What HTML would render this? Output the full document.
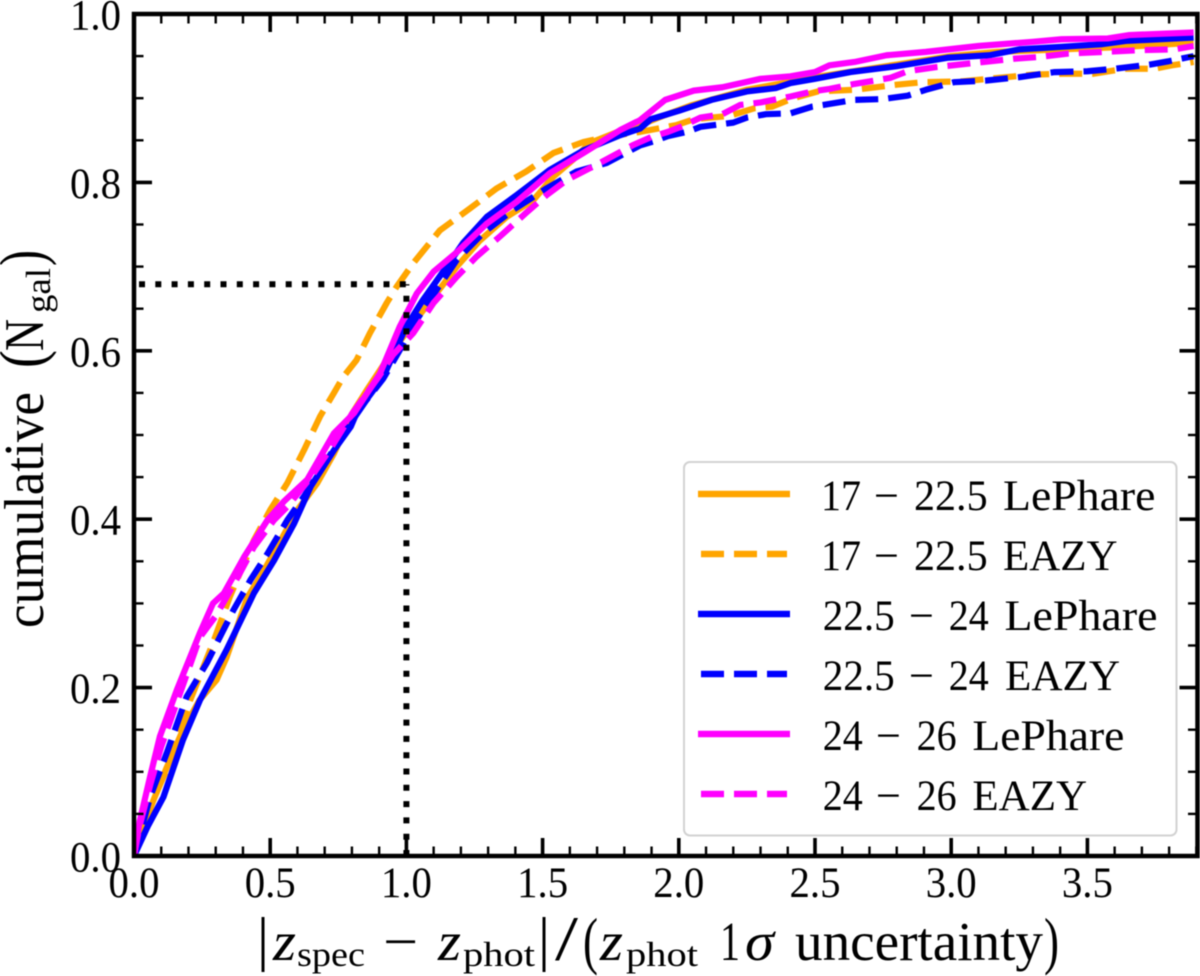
<!DOCTYPE html>
<html lang="en">
<head>
<meta charset="utf-8">
<title>Cumulative photometric redshift uncertainty</title>
<style>
html,body{margin:0;padding:0;background:#fff;}
#chart{display:block;width:1200px;height:976px;filter:blur(0.45px);}
text{font-family:"Liberation Serif",serif;fill:#000;}
</style>
</head>
<body>
<svg id="chart" xmlns="http://www.w3.org/2000/svg" width="1200" height="976" viewBox="0 0 1200 976">
  <defs>
    <clipPath id="plot-clip"><rect x="134" y="14" width="1063.5" height="842"/></clipPath>
  </defs>
  <rect x="0" y="0" width="1200" height="976" fill="#fff"/>
  <g id="series-layer" clip-path="url(#plot-clip)"></g>
  <g id="reference-layer"></g>
  <g id="tick-layer"></g>
  <rect x="134" y="14" width="1063.5" height="842" fill="none" stroke="#000" stroke-width="4.5"/>
  <g id="label-layer"></g>

  <g font-size="55" font-weight="400">
    <text x="257" y="959" font-size="60">|</text>
    <text x="273" y="960" font-style="italic" textLength="23" lengthAdjust="spacingAndGlyphs">z</text>
    <text x="297" y="966" font-size="35" textLength="68" lengthAdjust="spacingAndGlyphs">spec</text>
    <text x="383" y="960" textLength="35" lengthAdjust="spacingAndGlyphs">−</text>
    <text x="438" y="960" font-style="italic" textLength="23" lengthAdjust="spacingAndGlyphs">z</text>
    <text x="463" y="966" font-size="35" textLength="72" lengthAdjust="spacingAndGlyphs">phot</text>
    <text x="538" y="959" font-size="60">|</text>
    <text x="555" y="960" font-size="64" textLength="23" lengthAdjust="spacingAndGlyphs">/</text>
    <text x="583" y="962" font-size="64" textLength="15" lengthAdjust="spacingAndGlyphs">(</text>
    <text x="600" y="960" font-style="italic" textLength="23" lengthAdjust="spacingAndGlyphs">z</text>
    <text x="626" y="966" font-size="35" textLength="72" lengthAdjust="spacingAndGlyphs">phot</text>
    <text x="720" y="960" textLength="20" lengthAdjust="spacingAndGlyphs">1</text>
    <text x="745" y="960" font-style="italic" textLength="29" lengthAdjust="spacingAndGlyphs">σ</text>
    <text x="795" y="960" textLength="248" lengthAdjust="spacingAndGlyphs">uncertainty</text>
    <text x="1044" y="962" font-size="64" textLength="15" lengthAdjust="spacingAndGlyphs">)</text>
  </g>

  <g font-size="56">
    <text transform="translate(43,628) rotate(-90)" textLength="236" lengthAdjust="spacingAndGlyphs">cumulative</text>
    <text transform="translate(43,368) rotate(-90)" font-size="64" textLength="18" lengthAdjust="spacingAndGlyphs">(</text>
    <text transform="translate(43,351) rotate(-90)" textLength="32" lengthAdjust="spacingAndGlyphs">N</text>
    <text transform="translate(50,313) rotate(-90)" font-size="35" textLength="45" lengthAdjust="spacingAndGlyphs">gal</text>
    <text transform="translate(43,266) rotate(-90)" font-size="64" textLength="16" lengthAdjust="spacingAndGlyphs">)</text>
  </g>

  <g font-size="43">
    <rect x="684" y="462" width="492.5" height="373.5" rx="6" ry="6" fill="#fff" fill-opacity="0.9" stroke="#d2d2d2" stroke-width="2"/>
    <g>
      <line x1="698" x2="790" y1="494" y2="494" stroke="#ffa500" stroke-width="6.5"/>
      <text x="821" y="510" textLength="40" lengthAdjust="spacingAndGlyphs">17</text>
      <text x="874" y="510" textLength="25" lengthAdjust="spacingAndGlyphs">−</text>
      <text x="914" y="510" textLength="73.6" lengthAdjust="spacingAndGlyphs">22.5</text>
      <text x="1003" y="510" textLength="152.5" lengthAdjust="spacingAndGlyphs">LePhare</text>
    </g>
    <g>
      <line x1="701" x2="787" y1="554" y2="554" stroke="#ffa500" stroke-width="6.5" stroke-dasharray="23 10"/>
      <text x="821" y="570" textLength="40" lengthAdjust="spacingAndGlyphs">17</text>
      <text x="874" y="570" textLength="25" lengthAdjust="spacingAndGlyphs">−</text>
      <text x="914" y="570" textLength="73.6" lengthAdjust="spacingAndGlyphs">22.5</text>
      <text x="1003" y="570" textLength="114.6" lengthAdjust="spacingAndGlyphs">EAZY</text>
    </g>
    <g>
      <line x1="698" x2="790" y1="614" y2="614" stroke="#0000ff" stroke-width="6.5"/>
      <text x="822.7" y="630" textLength="72" lengthAdjust="spacingAndGlyphs">22.5</text>
      <text x="909" y="630" textLength="25" lengthAdjust="spacingAndGlyphs">−</text>
      <text x="948.7" y="630" textLength="40" lengthAdjust="spacingAndGlyphs">24</text>
      <text x="1004.5" y="630" textLength="153" lengthAdjust="spacingAndGlyphs">LePhare</text>
    </g>
    <g>
      <line x1="701" x2="787" y1="674" y2="674" stroke="#0000ff" stroke-width="6.5" stroke-dasharray="23 10"/>
      <text x="822.7" y="690" textLength="72" lengthAdjust="spacingAndGlyphs">22.5</text>
      <text x="909" y="690" textLength="25" lengthAdjust="spacingAndGlyphs">−</text>
      <text x="948.7" y="690" textLength="40" lengthAdjust="spacingAndGlyphs">24</text>
      <text x="1005" y="690" textLength="115" lengthAdjust="spacingAndGlyphs">EAZY</text>
    </g>
    <g>
      <line x1="698" x2="790" y1="734" y2="734" stroke="#ff00ff" stroke-width="6.5"/>
      <text x="822.7" y="750" textLength="40" lengthAdjust="spacingAndGlyphs">24</text>
      <text x="876" y="750" textLength="25" lengthAdjust="spacingAndGlyphs">−</text>
      <text x="916.6" y="750" textLength="40" lengthAdjust="spacingAndGlyphs">26</text>
      <text x="972.4" y="750" textLength="152" lengthAdjust="spacingAndGlyphs">LePhare</text>
    </g>
    <g>
      <line x1="701" x2="787" y1="794" y2="794" stroke="#ff00ff" stroke-width="6.5" stroke-dasharray="23 10"/>
      <text x="822.7" y="810" textLength="40" lengthAdjust="spacingAndGlyphs">24</text>
      <text x="876" y="810" textLength="25" lengthAdjust="spacingAndGlyphs">−</text>
      <text x="916.6" y="810" textLength="40" lengthAdjust="spacingAndGlyphs">26</text>
      <text x="972.4" y="810" textLength="114.6" lengthAdjust="spacingAndGlyphs">EAZY</text>
    </g>
  </g>
</svg>

<script>
// Axis tick values and labels
const xMajorTicks = [0, 0.5, 1.0, 1.5, 2.0, 2.5, 3.0, 3.5];
const xTickLabels = ["0.0", "0.5", "1.0", "1.5", "2.0", "2.5", "3.0", "3.5"];
const xMinorTicks = [0.1,0.2,0.3,0.4,0.6,0.7,0.8,0.9,1.1,1.2,1.3,1.4,1.6,1.7,1.8,1.9,2.1,2.2,2.3,2.4,2.6,2.7,2.8,2.9,3.1,3.2,3.3,3.4,3.6,3.7,3.8,3.9];
const yMajorTicks = [0, 0.2, 0.4, 0.6, 0.8, 1.0];
const yTickLabels = ["0.0", "0.2", "0.4", "0.6", "0.8", "1.0"];
const yMinorTicks = [0.05,0.1,0.15,0.25,0.3,0.35,0.45,0.5,0.55,0.65,0.7,0.75,0.85,0.9,0.95];

// Reference levels
const refX = 1.0;
const refY = 0.679;

// Series values
const orangeSolidX = [0,0.03,0.07,0.12,0.18,0.24,0.303,0.34,0.416,0.477,0.539,0.60,0.673,0.734,0.80,0.854,0.95,1.03,1.10,1.185,1.27,1.368,1.466,1.54,1.612,1.674,1.784,1.858,1.95,2.05,2.25,2.5,2.8,3.0,3.17,3.4,3.64,3.89];
const orangeSolidY = [0,0.03,0.065,0.105,0.15,0.185,0.209,0.236,0.307,0.339,0.375,0.411,0.443,0.478,0.525,0.553,0.60,0.635,0.664,0.70,0.731,0.759,0.779,0.807,0.827,0.847,0.861,0.868,0.88,0.892,0.91,0.925,0.94,0.95,0.955,0.958,0.961,0.966];
const orangeDashedX = [0,0.03,0.07,0.13,0.2,0.29,0.352,0.44,0.50,0.563,0.624,0.683,0.734,0.768,0.817,0.866,0.928,0.964,1.025,1.123,1.233,1.332,1.44,1.54,1.65,1.75,1.858,1.99,2.055,2.12,2.186,2.277,2.343,2.42,2.51,2.645,2.80,2.894,3.04,3.17,3.30,3.405,3.52,3.64,3.746,3.81,3.89];
const orangeDashedY = [0,0.03,0.066,0.11,0.18,0.253,0.308,0.375,0.411,0.443,0.482,0.522,0.55,0.569,0.589,0.621,0.657,0.676,0.704,0.743,0.769,0.793,0.813,0.835,0.848,0.855,0.860,0.868,0.875,0.877,0.879,0.888,0.890,0.900,0.908,0.910,0.916,0.919,0.920,0.924,0.928,0.929,0.929,0.935,0.935,0.939,0.943];
const blueSolidX = [0,0.05,0.108,0.18,0.242,0.34,0.44,0.514,0.588,0.649,0.734,0.796,0.817,0.915,1.0,1.06,1.148,1.208,1.295,1.405,1.527,1.65,1.784,1.858,1.897,2.0,2.12,2.25,2.356,2.41,2.50,2.63,2.80,2.985,3.14,3.25,3.405,3.55,3.64,3.89];
const blueSolidY = [0,0.035,0.07,0.138,0.185,0.245,0.312,0.351,0.395,0.439,0.482,0.510,0.526,0.569,0.629,0.66,0.70,0.728,0.759,0.785,0.815,0.838,0.856,0.864,0.875,0.885,0.898,0.908,0.912,0.918,0.923,0.931,0.938,0.948,0.951,0.958,0.961,0.964,0.968,0.972];
const blueDashedX = [0,0.03,0.059,0.12,0.193,0.267,0.365,0.428,0.49,0.563,0.624,0.70,0.77,0.85,0.915,0.976,1.038,1.11,1.185,1.282,1.39,1.515,1.625,1.735,1.858,1.91,1.96,2.03,2.08,2.20,2.25,2.32,2.41,2.49,2.55,2.645,2.75,2.84,2.907,3.01,3.13,3.25,3.38,3.50,3.60,3.73,3.80,3.89];
const blueDashedY = [0,0.035,0.07,0.122,0.189,0.229,0.292,0.328,0.359,0.399,0.427,0.466,0.502,0.54,0.567,0.601,0.637,0.672,0.708,0.74,0.767,0.793,0.813,0.823,0.844,0.849,0.855,0.860,0.866,0.871,0.877,0.881,0.882,0.890,0.893,0.898,0.899,0.903,0.910,0.919,0.921,0.925,0.931,0.932,0.935,0.940,0.944,0.950];
const magentaSolidX = [0,0.02,0.059,0.095,0.157,0.242,0.29,0.33,0.404,0.49,0.55,0.636,0.734,0.808,0.903,0.976,1.038,1.10,1.185,1.295,1.405,1.527,1.65,1.784,1.858,1.95,2.055,2.16,2.30,2.41,2.50,2.553,2.645,2.763,2.907,3.10,3.30,3.405,3.575,3.654,3.89];
const magentaSolidY = [0,0.04,0.094,0.142,0.197,0.265,0.30,0.312,0.355,0.399,0.421,0.447,0.502,0.526,0.573,0.629,0.668,0.694,0.717,0.751,0.777,0.811,0.835,0.862,0.874,0.898,0.909,0.913,0.923,0.926,0.931,0.939,0.943,0.951,0.955,0.962,0.967,0.970,0.971,0.975,0.978];
const magentaDashedX = [0,0.02,0.06,0.1,0.16,0.242,0.30,0.367,0.44,0.514,0.563,0.65,0.72,0.8,0.9,0.95,1.025,1.10,1.185,1.258,1.344,1.44,1.515,1.59,1.71,1.83,1.90,1.96,2.015,2.08,2.16,2.225,2.30,2.41,2.49,2.553,2.645,2.775,2.84,2.946,3.117,3.235,3.326,3.43,3.56,3.69,3.82,3.89];
const magentaDashedY = [0,0.035,0.085,0.13,0.185,0.26,0.285,0.323,0.367,0.399,0.415,0.45,0.483,0.525,0.57,0.595,0.621,0.657,0.688,0.712,0.736,0.764,0.785,0.803,0.823,0.844,0.854,0.860,0.867,0.877,0.881,0.892,0.895,0.902,0.908,0.911,0.917,0.924,0.932,0.937,0.943,0.947,0.949,0.953,0.955,0.957,0.958,0.962];

const SVGNS = "http://www.w3.org/2000/svg";
const X0 = 134, PXPERX = 272.4, Y0 = 856, PXPERY = 842;
const X1 = 1197.5, Y1 = 14;
function xScale(v) { return X0 + PXPERX * v; }
function yScale(v) { return Y0 - PXPERY * v; }

function pathFrom(xs, ys) {
  return xs.map(function (x, i) {
    return (i ? "L" : "M") + xScale(x).toFixed(2) + " " + yScale(ys[i]).toFixed(2);
  }).join(" ");
}

const seriesLayer = document.getElementById("series-layer");
function addSeries(name, xs, ys, color, dashed) {
  const el = document.createElementNS(SVGNS, "path");
  
  
  el.setAttribute("d", pathFrom(xs, ys));
  el.setAttribute("fill", "none");
  el.setAttribute("stroke", color);
  el.setAttribute("stroke-width", "6.2");
  el.setAttribute("stroke-linejoin", "round");
  if (dashed) el.setAttribute("stroke-dasharray", "23 10");
  seriesLayer.appendChild(el);
}
addSeries("series-orange-lephare", orangeSolidX, orangeSolidY, "#ffa500", false);
addSeries("series-orange-eazy", orangeDashedX, orangeDashedY, "#ffa500", true);
addSeries("series-blue-lephare", blueSolidX, blueSolidY, "#0000ff", false);
addSeries("series-blue-eazy", blueDashedX, blueDashedY, "#0000ff", true);
addSeries("series-magenta-lephare", magentaSolidX, magentaSolidY, "#ff00ff", false);
addSeries("series-magenta-eazy", magentaDashedX, magentaDashedY, "#ff00ff", true);

const referenceLayer = document.getElementById("reference-layer");
function addReference(name, x1, y1, x2, y2) {
  const el = document.createElementNS(SVGNS, "line");
  
  
  el.setAttribute("x1", x1);
  el.setAttribute("y1", y1);
  el.setAttribute("x2", x2);
  el.setAttribute("y2", y2);
  el.setAttribute("stroke", "#000");
  el.setAttribute("stroke-width", "6");
  el.setAttribute("stroke-dasharray", "6 10.3");
  referenceLayer.appendChild(el);
}
addReference("reference-horizontal", xScale(0) + 5, yScale(refY), xScale(refX), yScale(refY));
addReference("reference-vertical", xScale(refX), yScale(0), xScale(refX), yScale(refY));

const tickLayer = document.getElementById("tick-layer");
function addTick(name, x1, y1, x2, y2, w) {
  const el = document.createElementNS(SVGNS, "line");
  
  
  el.setAttribute("x1", x1);
  el.setAttribute("y1", y1);
  el.setAttribute("x2", x2);
  el.setAttribute("y2", y2);
  el.setAttribute("stroke", "#000");
  el.setAttribute("stroke-width", w);
  tickLayer.appendChild(el);
}
const MAJOR = 18, MINOR = 9.5;
xMajorTicks.forEach(function (v) {
  addTick("x-major-tick", xScale(v), Y0, xScale(v), Y0 - MAJOR, 3.6);
  addTick("x-major-tick-top", xScale(v), Y1, xScale(v), Y1 + MAJOR, 3.6);
});
xMinorTicks.forEach(function (v) {
  addTick("x-minor-tick", xScale(v), Y0, xScale(v), Y0 - MINOR, 2.4);
  addTick("x-minor-tick-top", xScale(v), Y1, xScale(v), Y1 + MINOR, 2.4);
});
yMajorTicks.forEach(function (v) {
  addTick("y-major-tick", X0, yScale(v), X0 + MAJOR, yScale(v), 3.6);
  addTick("y-major-tick-right", X1, yScale(v), X1 - MAJOR, yScale(v), 3.6);
});
yMinorTicks.forEach(function (v) {
  addTick("y-minor-tick", X0, yScale(v), X0 + MINOR, yScale(v), 2.4);
  addTick("y-minor-tick-right", X1, yScale(v), X1 - MINOR, yScale(v), 2.4);
});

const labelLayer = document.getElementById("label-layer");
function addLabel(name, str, x, y, anchor) {
  const el = document.createElementNS(SVGNS, "text");
  
  
  el.setAttribute("x", x);
  el.setAttribute("y", y);
  el.setAttribute("font-size", "43");
  el.setAttribute("textLength", "51");
  el.setAttribute("lengthAdjust", "spacingAndGlyphs");
  el.setAttribute("text-anchor", anchor);
  el.textContent = str;
  labelLayer.appendChild(el);
}
xMajorTicks.forEach(function (v, i) {
  addLabel("x-tick-label", xTickLabels[i], xScale(v), 897, "middle");
});
yMajorTicks.forEach(function (v, i) {
  addLabel("y-tick-label", yTickLabels[i], 121, yScale(v) + 15.5, "end");
});
</script>
</body>
</html>
